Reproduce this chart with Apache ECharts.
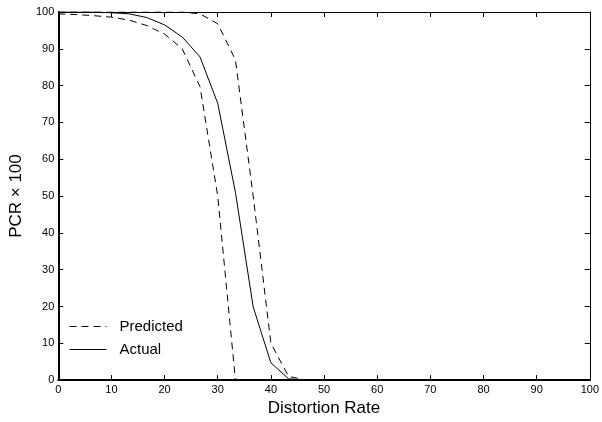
<!DOCTYPE html>
<html><head><meta charset="utf-8">
<script src="https://cdn.jsdelivr.net/npm/echarts@6/dist/echarts.min.js"></script>
<style>html,body{margin:0;padding:0;background:#fff}#c{width:602px;height:422px}</style>
</head><body><div id="c"></div>
<script>
const distortion = [0, 3.33, 6.67, 10, 13.33, 16.67, 20, 23.33, 26.67, 30, 33.33, 36.67, 40, 43.33, 46.67, 50];
const actual =         [100, 100, 100, 99.8, 99.5, 98.5, 96.5, 93.2, 87.8, 75.2, 51, 19.9, 4.7, 0.35, 0, 0];
const predictedLow =   [99.5, 99.3, 99, 98.6, 97.8, 96.3, 94, 90, 79.7, 50, 0, 0, 0, 0, 0, 0];
const predictedHigh =  [100, 100, 100, 100, 100, 100, 100, 100, 99.5, 96.8, 87, 50, 10, 1, 0, 0];
const xTicks = [0, 10, 20, 30, 40, 50, 60, 70, 80, 90, 100];
const yTicks = [0, 10, 20, 30, 40, 50, 60, 70, 80, 90, 100];

const pair = ys => distortion.map((x, i) => [x, ys[i]]);
const font = 'Liberation Sans, Arial, Helvetica, sans-serif';
const chart = echarts.init(document.getElementById('c'));
const baseAxis = {
  type: 'value', min: 0, max: 100, interval: 10,
  axisLine: { show: true, onZero: false, lineStyle: { color: '#000', width: 1 } },
  axisTick: { show: true, inside: true, length: 5, lineStyle: { color: '#000' } },
  splitLine: { show: false }
};
chart.setOption({
  animation: false,
  backgroundColor: '#fff',
  grid: { left: 53, right: 9, top: 12, bottom: 38 },
  xAxis: [
    Object.assign({}, baseAxis, {
      position: 'bottom', name: 'Distortion Rate', nameLocation: 'middle', nameGap: 19,
      nameTextStyle: { fontFamily: font, fontSize: 17, color: '#000' },
      axisLine: { show: true, onZero: false, lineStyle: { color: '#000', width: 2 } },
      axisLabel: { fontFamily: font, fontSize: 11, color: '#000', margin: 4,
        formatter: v => xTicks.includes(v) ? String(v) : '' }
    }),
    Object.assign({}, baseAxis, { position: 'top', axisLabel: { show: false } })
  ],
  yAxis: [
    Object.assign({}, baseAxis, {
      position: 'left', name: 'PCR × 100', nameLocation: 'middle', nameGap: 25,
      nameTextStyle: { fontFamily: font, fontSize: 17, color: '#000' },
      axisLine: { show: true, onZero: false, lineStyle: { color: '#000', width: 2 } },
      axisLabel: { fontFamily: font, fontSize: 11, color: '#000', margin: 4,
        formatter: v => yTicks.includes(v) ? String(v) : '' }
    }),
    Object.assign({}, baseAxis, { position: 'right', axisLabel: { show: false } })
  ],
  legend: {
    orient: 'vertical', left: 64, top: 314, itemWidth: 37, itemHeight: 10, itemGap: 8,
    itemStyle: { opacity: 0 },
    lineStyle: { width: 1 },
    textStyle: { fontFamily: font, fontSize: 15, color: '#000', padding: [0, 0, 0, 8] },
    data: ['Predicted', 'Actual']
  },
  series: [
    { name: 'Predicted', type: 'line', data: pair(predictedLow), symbol: 'none',
      lineStyle: { color: '#000', width: 1, type: [7, 5] }, itemStyle: { color: '#000' } },
    { name: 'Predicted', type: 'line', data: pair(predictedHigh), symbol: 'none',
      lineStyle: { color: '#000', width: 1, type: [7, 5] }, itemStyle: { color: '#000' } },
    { name: 'Actual', type: 'line', data: pair(actual), symbol: 'none',
      lineStyle: { color: '#000', width: 1, type: 'solid' }, itemStyle: { color: '#000' } }
  ]
});
</script></body></html>
